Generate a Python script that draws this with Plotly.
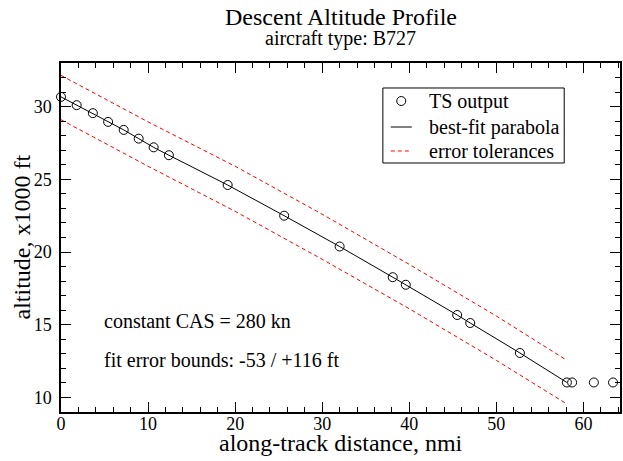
import plotly.graph_objects as go

# TS output points (nmi, x1000 ft)
ts_dist = [0.0, 1.8, 3.66, 5.41, 7.2, 8.92, 10.64, 12.39, 19.14, 25.63, 32.0,
           38.1, 39.6, 45.5, 47.0, 52.7, 58.1, 58.7, 61.2, 63.4]
ts_alt = [30.67, 30.1, 29.55, 28.95, 28.4, 27.8, 27.2, 26.66, 24.61, 22.5, 20.38,
          18.27, 17.75, 15.67, 15.12, 13.06, 11.03, 11.03, 11.03, 11.03]

# best-fit parabola
fit_dist = [0.0, 1.8, 3.66, 5.41, 7.2, 8.92, 10.64, 12.39, 19.14, 25.63, 32.0,
            38.1, 39.6, 45.5, 47.0, 52.7, 58.1]
fit_alt = [30.67, 30.1, 29.55, 28.95, 28.4, 27.8, 27.2, 26.66, 24.61, 22.5, 20.38,
           18.27, 17.75, 15.67, 15.12, 13.06, 11.03]

# error tolerance bands
tol_dist = [0.0, 10.0, 20.0, 30.0, 40.0, 50.0, 58.1]
tol_upper = [32.15, 28.95, 25.9, 22.6, 19.15, 15.6, 12.55]
tol_lower = [29.1, 25.9, 22.8, 19.5, 16.1, 12.55, 9.55]

legend_labels = ["TS output", "best-fit parabola", "error tolerances"]

FONT = "Liberation Serif"
DASH = "4px,3px"

fig = go.Figure()
fig.add_trace(go.Scatter(x=ts_dist, y=ts_alt, mode="markers", name=legend_labels[0],
                         cliponaxis=False, showlegend=False,
                         marker=dict(symbol="circle-open", size=9,
                                     color="black", line=dict(width=1, color="black"))))
fig.add_trace(go.Scatter(x=fit_dist, y=fit_alt, mode="lines", name=legend_labels[1],
                         showlegend=False, line=dict(color="black", width=1)))
fig.add_trace(go.Scatter(x=tol_dist, y=tol_upper, mode="lines", name=legend_labels[2],
                         showlegend=False, line=dict(color="red", width=1, dash=DASH)))
fig.add_trace(go.Scatter(x=tol_dist, y=tol_lower, mode="lines", showlegend=False,
                         line=dict(color="red", width=1, dash=DASH)))

axis_common = dict(
    showgrid=False, zeroline=False, showline=True, linecolor="black", linewidth=1.5,
    mirror="allticks", ticks="inside", ticklen=10, tickwidth=1, tickcolor="black",
    tickfont=dict(family=FONT, size=18, color="black"),
)

# ---- legend box (drawn as a key, in paper coordinates) ----
lg_x0, lg_x1, lg_y0, lg_y1 = 0.5758, 0.9002, 0.7135, 0.9284
row_y = [0.8911, 0.8166, 0.7479]
key_x0, key_x1, key_xc = 0.5900, 0.6275, 0.6087
text_x = 0.6542

shapes = [
    dict(type="rect", xref="paper", yref="paper", x0=lg_x0, x1=lg_x1, y0=lg_y0, y1=lg_y1,
         line=dict(color="black", width=1), fillcolor="white", layer="above"),
    dict(type="circle", xref="paper", yref="paper", xsizemode="pixel", ysizemode="pixel",
         xanchor=key_xc, yanchor=row_y[0], x0=-4.5, x1=4.5, y0=-4.5, y1=4.5,
         line=dict(color="black", width=1), layer="above"),
    dict(type="line", xref="paper", yref="paper", x0=key_x0, x1=key_x1,
         y0=row_y[1], y1=row_y[1], line=dict(color="black", width=1), layer="above"),
    dict(type="line", xref="paper", yref="paper", x0=key_x0, x1=key_x1,
         y0=row_y[2], y1=row_y[2], line=dict(color="red", width=1, dash=DASH), layer="above"),
]

legend_ann = [
    dict(text=lab, xref="paper", yref="paper", x=text_x, y=yy, xanchor="left",
         yanchor="middle", showarrow=False, font=dict(family=FONT, size=20, color="black"))
    for lab, yy in zip(legend_labels, row_y)
]

fig.update_layout(
    width=623, height=461,
    margin=dict(l=61, r=1, t=63, b=49),
    paper_bgcolor="white", plot_bgcolor="white",
    font=dict(family=FONT, color="black"),
    showlegend=False,
    xaxis=dict(range=[0, 64.2], dtick=10, tick0=0, ticklabelstandoff=-5,
               minor=dict(dtick=2, ticks="inside", ticklen=5, tickcolor="black"),
               **axis_common),
    yaxis=dict(range=[9, 33], dtick=5, tick0=0, ticklabelstandoff=4,
               minor=dict(dtick=1, ticks="inside", ticklen=5, tickcolor="black"),
               **axis_common),
    shapes=shapes,
    annotations=[
        dict(text="Descent Altitude Profile", xref="paper", yref="paper",
             x=0.5, y=1, yshift=46, xanchor="center", yanchor="middle",
             showarrow=False, font=dict(family=FONT, size=24, color="black")),
        dict(text="aircraft type: B727", xref="paper", yref="paper",
             x=0.5, y=1, yshift=25, xanchor="center", yanchor="middle",
             showarrow=False, font=dict(family=FONT, size=20, color="black")),
        dict(text="along-track distance, nmi", xref="paper", yref="paper",
             x=0.5, y=0, yshift=-31, xanchor="center", yanchor="middle",
             showarrow=False, font=dict(family=FONT, size=24, color="black")),
        dict(text="altitude, x1000 ft", xref="paper", yref="paper",
             x=0, y=0.5, xshift=-40, xanchor="center", yanchor="middle",
             textangle=-90,
             showarrow=False, font=dict(family=FONT, size=24, color="black")),
        dict(text="constant CAS = 280 kn", xref="x", yref="y",
             x=4.7, y=15.25, xanchor="left", yanchor="middle",
             showarrow=False, font=dict(family=FONT, size=20, color="black")),
        dict(text="fit error bounds: -53 / +116 ft", xref="x", yref="y",
             x=4.7, y=12.6, xanchor="left", yanchor="middle",
             showarrow=False, font=dict(family=FONT, size=20, color="black")),
    ] + legend_ann,
)

fig.write_html("out.html", config={"displayModeBar": False},
               post_script="document.body.style.margin='0';document.body.style.overflow='hidden';")
